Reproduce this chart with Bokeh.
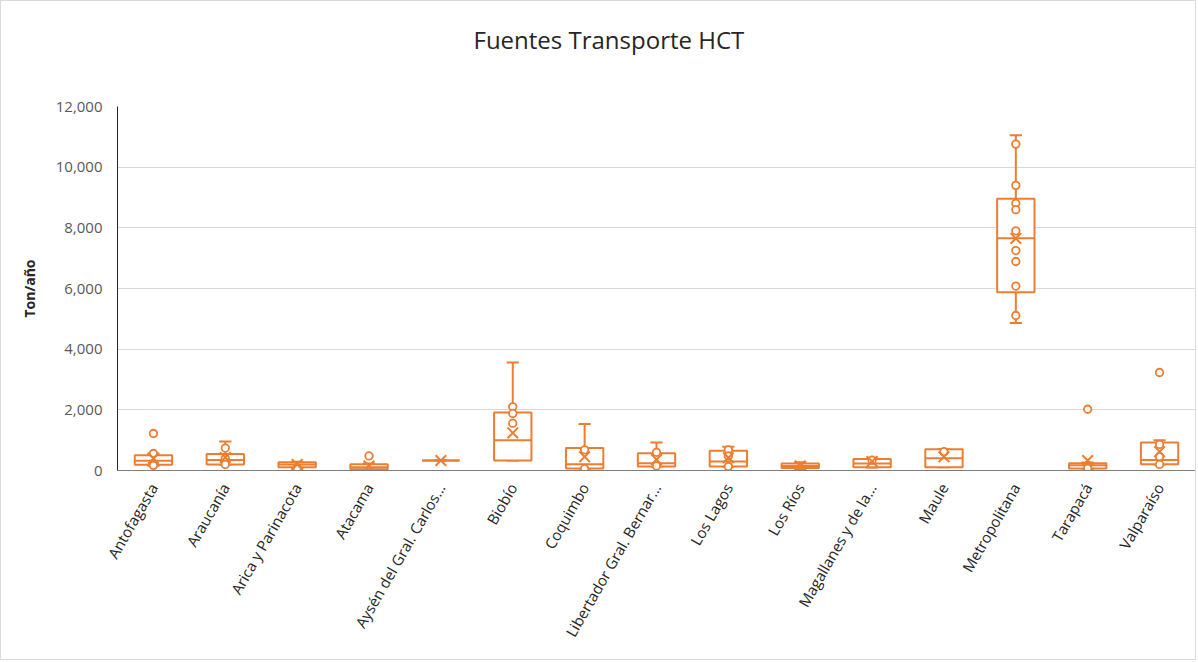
import math
from bokeh.plotting import figure
from bokeh.models import FactorRange, NumeralTickFormatter, FixedTicker, ColumnDataSource, Title
from bokeh.embed import file_html
from bokeh.resources import INLINE

categories = ["Antofagasta", "Araucanía", "Arica y Parinacota", "Atacama",
              "Aysén del Gral. Carlos...", "Biobío", "Coquimbo",
              "Libertador Gral. Bernar...", "Los Lagos", "Los Ríos",
              "Magallanes y de la...", "Maule", "Metropolitana", "Tarapacá", "Valparaíso"]
whisker_low = [160, 190, 60, 30, 330, 330, 60, 130, 120, 50, 100, 110, 4860, 60, 200]
q1 = [190, 200, 110, 40, 330, 330, 70, 130, 130, 80, 110, 110, 5880, 70, 210]
median = [320, 350, 200, 110, 330, 1000, 210, 240, 300, 150, 230, 400, 7660, 170, 350]
q3 = [500, 540, 270, 210, 330, 1910, 740, 570, 650, 230, 380, 700, 8960, 240, 920]
whisker_high = [560, 960, 290, 230, 330, 3560, 1530, 920, 780, 270, 400, 700, 11050, 260, 1000]
mean = [400, 430, 200, 150, 330, 1240, 450, 360, 420, 150, 300, 450, 7650, 330, 620]
point_values = [
    [1220, 560, 170],
    [740, 400, 200],
    [80],
    [480],
    [],
    [2100, 1880, 1560],
    [680, 60],
    [600, 150],
    [680, 480, 130],
    [],
    [340],
    [620],
    [10760, 9400, 8810, 8600, 7900, 7250, 6890, 6080, 5110],
    [2020, 70],
    [3230, 860, 460, 200],
]
title_text = "Fuentes Transporte HCT"

ORANGE = "#ED7D31"
FONT = "Open Sans"

src = ColumnDataSource(dict(cat=categories, lo=whisker_low, q1=q1, med=median,
                            q3=q3, hi=whisker_high, mean=mean))
pt_x, pt_y = [], []
for c, vals in zip(categories, point_values):
    for v in vals:
        pt_x.append(c)
        pt_y.append(v)

p = figure(width=1196, height=660, x_range=FactorRange(factors=categories, range_padding=0),
           y_range=(0, 12000), output_backend="svg", toolbar_location=None,
           styles={"border": "1px solid #d9d9d9"})
p.min_border_left = 116
p.min_border_right = 2
p.min_border_top = 0
p.min_border_bottom = 191
p.outline_line_color = None
p.background_fill_color = "white"
p.border_fill_color = "white"

# spacer between title and plot area, then the chart title
p.add_layout(Title(text=" ", text_font_size="8px", standoff=21), "above")
p.add_layout(Title(text=title_text, align="left", offset=356, standoff=38,
                   text_font=FONT, text_font_size="24px", text_font_style="normal",
                   text_color="#262626"), "above")

# whisker stems
p.segment(x0="cat", y0="hi", x1="cat", y1="q3", source=src, line_color=ORANGE, line_width=2)
p.segment(x0="cat", y0="lo", x1="cat", y1="q1", source=src, line_color=ORANGE, line_width=2)
# caps
p.vbar(x="cat", top="hi", bottom="hi", width=0.17, source=src, fill_color=None,
       line_color=ORANGE, line_width=2)
p.vbar(x="cat", top="lo", bottom="lo", width=0.17, source=src, fill_color=None,
       line_color=ORANGE, line_width=2)
# boxes
p.vbar(x="cat", top="q3", bottom="q1", width=0.52, source=src, fill_color="white",
       line_color=ORANGE, line_width=2)
# median
p.vbar(x="cat", top="med", bottom="med", width=0.52, source=src, fill_color=None,
       line_color=ORANGE, line_width=2)
# points
p.scatter(x=pt_x, y=pt_y, marker="circle", size=7.5, fill_color="white",
          line_color=ORANGE, line_width=1.8)
# mean
p.scatter(x="cat", y="mean", source=src, marker="x", size=15, line_color=ORANGE, line_width=2)

p.yaxis.ticker = FixedTicker(ticks=[0, 2000, 4000, 6000, 8000, 10000, 12000])
p.yaxis.formatter = NumeralTickFormatter(format="0,0")
p.yaxis.axis_label = "Ton/año"
p.yaxis.axis_label_text_font = FONT
p.yaxis.axis_label_text_font_size = "14px"
p.yaxis.axis_label_text_font_style = "bold"
p.yaxis.axis_label_text_color = "#262626"
p.yaxis.axis_label_standoff = 14
p.yaxis.major_label_text_font = FONT
p.yaxis.major_label_text_font_size = "15px"
p.yaxis.major_label_text_color = "#595959"
p.yaxis.major_label_standoff = 9
p.yaxis.major_tick_line_color = None
p.yaxis.minor_tick_line_color = None
p.yaxis.axis_line_color = "#262626"

p.xaxis.major_label_orientation = math.radians(60)
p.xaxis.major_label_text_font = FONT
p.xaxis.major_label_text_font_size = "15px"
p.xaxis.major_label_text_color = "#262626"
p.xaxis.major_label_standoff = 8
p.xaxis.major_tick_line_color = None
p.xaxis.axis_line_color = "#7f7f7f"

p.xgrid.grid_line_color = None
p.ygrid.grid_line_color = "#d9d9d9"
p.ygrid.grid_line_width = 1

open("out.html", "w").write(file_html(p, INLINE))
